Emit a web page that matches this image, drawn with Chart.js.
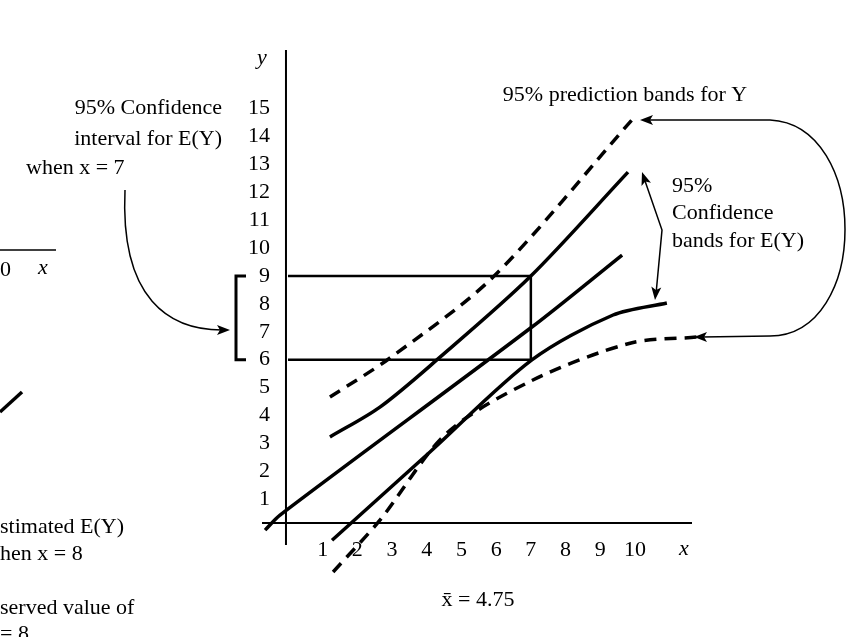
<!DOCTYPE html>
<html><head><meta charset="utf-8">
<script src="https://cdn.jsdelivr.net/npm/chart.js@4/dist/chart.umd.min.js"></script>
<style>html,body{margin:0;background:#fff}#wrap{width:857px;height:637px}</style>
</head><body><div id="wrap"><canvas id="c"></canvas></div>
<script>
// values
const fitLine = [[-0.66, -0.11], [-0.23, 0.43], [7.03, 7.17], [9.63, 9.75]];
const confUpper = [[1.21, 3.23], [2.65, 4.3], [4.29, 5.99], [6.97, 8.96], [9.8, 12.72]];
const confLower = [[1.27, -0.47], [4.1, 2.7], [7.03, 5.99], [9.37, 7.6], [10.92, 8.03]];
const predUpper = [[1.21, 4.66], [2.94, 6.06], [5.91, 8.96], [9.91, 14.59]];
const predLower = [[1.3, -1.61], [2.65, 0.25], [4.58, 3.37], [7.06, 5.27], [9.86, 6.59], [11.79, 6.81]];
const xTicks = [1, 2, 3, 4, 5, 6, 7, 8, 9, 10];
const yTicks = [1, 2, 3, 4, 5, 6, 7, 8, 9, 10, 11, 12, 13, 14, 15];
const boxX = 7, boxLow = 6, boxHigh = 9;

const pts = a => a.map(p => ({ x: p[0], y: p[1] }));
function ds(data, dashed) {
  return { data: pts(data), showLine: true, pointRadius: 0, borderColor: "#000",
    borderWidth: 3.5, borderDash: dashed ? [12, 8] : [], tension: 0.3 };
}

function arrowHead(ctx, x, y, ang) {
  ctx.save(); ctx.translate(x, y); ctx.rotate(ang);
  ctx.beginPath(); ctx.moveTo(0, 0); ctx.lineTo(-13, -5); ctx.lineTo(-10, 0); ctx.lineTo(-13, 5); ctx.closePath(); ctx.fill();
  ctx.restore();
}

const decor = {
  id: "decor",
  afterDatasetsDraw(chart) {
    const ctx = chart.ctx, sx = chart.scales.x, sy = chart.scales.y;
    const X = v => sx.getPixelForValue(v), Y = v => sy.getPixelForValue(v);
    ctx.save();
    ctx.strokeStyle = "#000"; ctx.fillStyle = "#000";
    // axes
    ctx.lineWidth = 2;
    ctx.beginPath(); ctx.moveTo(X(0) - 2, 50); ctx.lineTo(X(0) - 2, 545);
    ctx.moveTo(262, 523); ctx.lineTo(692, 523); ctx.stroke();
    // box
    ctx.lineWidth = 2.5;
    ctx.beginPath(); ctx.moveTo(X(0), Y(boxHigh)); ctx.lineTo(X(boxX), Y(boxHigh)); ctx.lineTo(X(boxX), Y(boxLow)); ctx.lineTo(X(0), Y(boxLow)); ctx.stroke();
    // bracket
    ctx.lineWidth = 3;
    ctx.beginPath(); ctx.moveTo(246, Y(boxHigh)); ctx.lineTo(236, Y(boxHigh)); ctx.lineTo(236, Y(boxLow)); ctx.lineTo(246, Y(boxLow)); ctx.stroke();
    // tick labels
    ctx.font = "22px 'Liberation Serif'";
    ctx.textAlign = "right"; ctx.textBaseline = "middle";
    yTicks.forEach(t => ctx.fillText(String(t), 270, Y(t)));
    ctx.textAlign = "center";
    xTicks.forEach(t => ctx.fillText(String(t), X(t), 550));
    ctx.font = "italic 22px 'Liberation Serif'";
    ctx.fillText("x", 684, 549);
    ctx.fillText("y", 262, 58);
    ctx.font = "22px 'Liberation Serif'";
    ctx.fillText("x\u0304 = 4.75", 478, 600);
    // left text
    ctx.textAlign = "right";
    ctx.fillText("95% Confidence", 222, 108);
    ctx.fillText("interval for E(Y)", 222, 139);
    ctx.textAlign = "left";
    ctx.fillText("when x = 7", 26, 168);
    ctx.textAlign = "center";
    ctx.fillText("95% prediction bands for Y", 625, 95);
    ctx.textAlign = "left";
    ctx.fillText("95%", 672, 186);
    ctx.fillText("Confidence", 672, 213);
    ctx.fillText("bands for E(Y)", 672, 241);
    // cropped left text
    ctx.fillText("0", 0, 270);
    ctx.font = "italic 22px 'Liberation Serif'"; ctx.fillText("x", 38, 268);
    ctx.font = "22px 'Liberation Serif'";
    ctx.fillText("stimated E(Y)", 0, 527);
    ctx.fillText("hen x = 8", 0, 554);
    ctx.fillText("served value of", 0, 608);
    ctx.fillText("= 8", 0, 634);
    ctx.lineWidth = 1.5;
    ctx.beginPath(); ctx.moveTo(0, 250); ctx.lineTo(56, 250); ctx.stroke();
    ctx.lineWidth = 3.5;
    ctx.beginPath(); ctx.moveTo(0, 412); ctx.lineTo(22, 392); ctx.stroke();
    // arrows
    ctx.lineWidth = 1.5;
    ctx.beginPath(); ctx.moveTo(125, 190); ctx.bezierCurveTo(120, 300, 170, 330, 222, 330); ctx.stroke();
    arrowHead(ctx, 230, 330, 0);
    ctx.beginPath(); ctx.moveTo(650, 120); ctx.lineTo(770, 120);
    ctx.bezierCurveTo(870, 125, 870, 335, 770, 336); ctx.lineTo(702, 337); ctx.stroke();
    arrowHead(ctx, 640, 120, Math.PI);
    arrowHead(ctx, 694, 337, Math.PI);
    ctx.beginPath(); ctx.moveTo(644, 178); ctx.lineTo(662, 230); ctx.lineTo(656, 294); ctx.stroke();
    arrowHead(ctx, 642, 172, Math.atan2(178 - 230, 644 - 662));
    arrowHead(ctx, 655, 300, Math.atan2(300 - 230, 655 - 662));
    ctx.restore();
  }
};

new Chart(document.getElementById("c"), {
  type: "scatter",
  data: { datasets: [ds(fitLine), ds(confUpper), ds(confLower), ds(predUpper, true), ds(predLower, true)] },
  options: {
    responsive: true, maintainAspectRatio: false, animation: false,
    layout: { padding: 0 },
    plugins: { legend: { display: false }, tooltip: { enabled: false } },
    scales: {
      x: { type: "linear", min: -8.3, max: 16.4, display: false },
      y: { type: "linear", min: -3.94, max: 18.89, display: false }
    }
  },
  plugins: [decor]
});
</script></body></html>
